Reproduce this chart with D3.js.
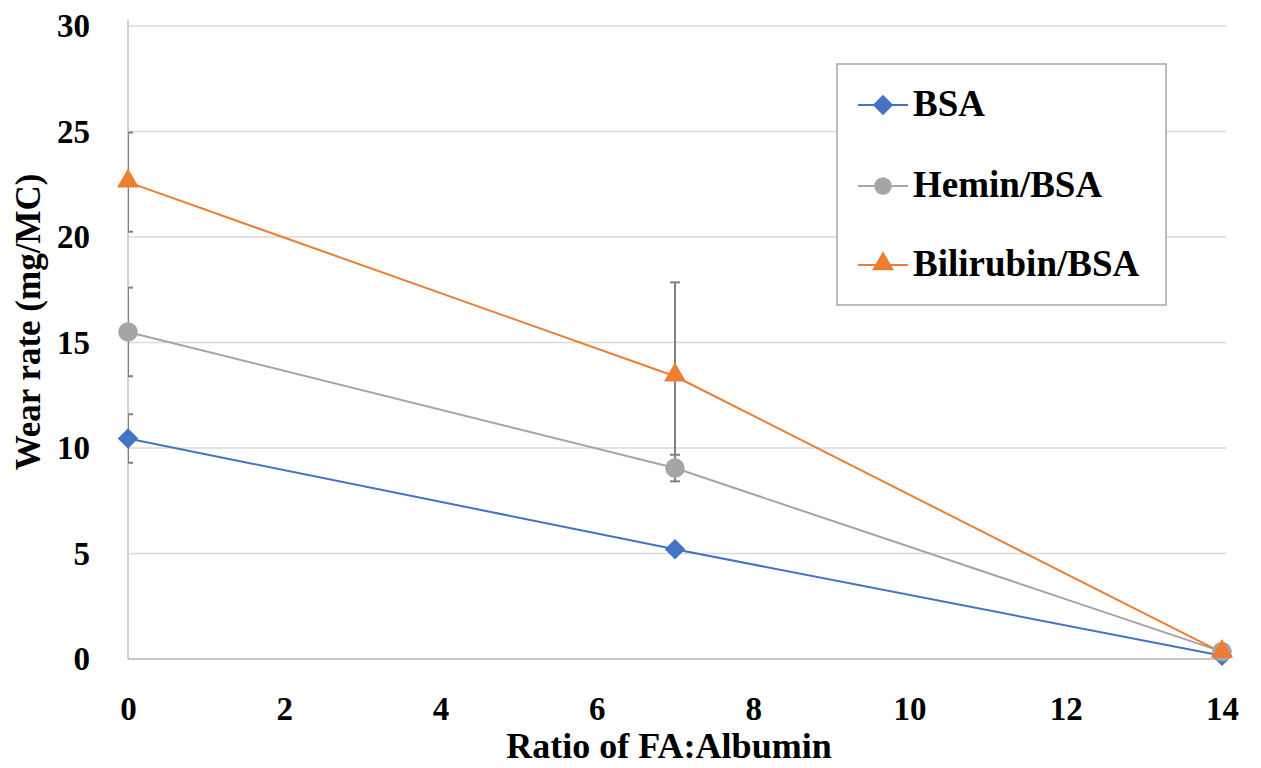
<!DOCTYPE html>
<html><head><meta charset="utf-8">
<script src="https://cdn.jsdelivr.net/npm/d3@7"></script>
<style>body{margin:0;background:#fff}svg{display:block}</style>
</head><body><svg id="c" width="1261" height="768"></svg>
<script>
const xValues = [0, 7, 14];
const seriesNames = ["BSA", "Hemin/BSA", "Bilirubin/BSA"];
const bsa = [10.45, 5.2, 0.15];
const hemin = [15.5, 9.05, 0.35];
const bilirubin = [22.6, 13.4, 0.3];
const bsaErr = [1.15, 0, 0];
const heminErr = [2.1, 0.63, 0];
const bilirubinErr = [2.35, 4.45, 0];
const xTicks = [0, 2, 4, 6, 8, 10, 12, 14];
const yTicks = [0, 5, 10, 15, 20, 25, 30];
const colors = ["#4472C4", "#A5A5A5", "#ED7D31"];

const svg = d3.select("#c");
const font = "'Liberation Serif','DejaVu Serif',serif";
const m = {l:128, r:1222, t:26, b:659};
const x = d3.scaleLinear().domain([0,14]).range([m.l, m.r]);
const y = d3.scaleLinear().domain([0,30]).range([m.b, m.t]);

function marker(sel, k, scale) {
  const s = scale || 1;
  if (k === 0) {
    sel.append("path").attr("d", d3.symbol().type(d3.symbolSquare).size(210*s))
      .attr("transform", "rotate(45)").attr("fill", colors[k]);
  } else if (k === 1) {
    sel.append("path").attr("d", d3.symbol().type(d3.symbolCircle).size(300*s)).attr("fill", colors[k]);
  } else {
    sel.append("path").attr("d", d3.symbol().type(d3.symbolTriangle).size(210*s))
      .attr("transform", "translate(0,-1)").attr("fill", colors[k]);
  }
}

svg.append("g").selectAll("line").data(yTicks.filter(d=>d>0)).join("line")
  .attr("x1", m.l).attr("x2", m.r+4).attr("y1", d=>y(d)).attr("y2", d=>y(d))
  .attr("stroke", "#d9d9d9").attr("stroke-width", 1.5);
svg.append("line").attr("x1", m.l).attr("x2", m.l).attr("y1", 20).attr("y2", m.b)
  .attr("stroke", "#d0d0d0").attr("stroke-width", 2);
svg.append("line").attr("x1", m.l).attr("x2", m.r+4).attr("y1", m.b).attr("y2", m.b)
  .attr("stroke", "#c8c8c8").attr("stroke-width", 2);

const yAxis = svg.append("g").attr("transform", `translate(${m.l},0)`)
  .call(d3.axisLeft(y).tickValues(yTicks).tickSize(0).tickPadding(38));
yAxis.select(".domain").remove();
yAxis.selectAll("text").attr("font-family", font).attr("font-weight", "bold")
  .attr("font-size", 33).attr("fill", "#000");
const xAxis = svg.append("g").attr("transform", `translate(0,${m.b})`)
  .call(d3.axisBottom(x).tickValues(xTicks).tickSize(0).tickPadding(38));
xAxis.select(".domain").remove();
xAxis.selectAll("text").attr("font-family", font).attr("font-weight", "bold")
  .attr("font-size", 33).attr("fill", "#000");

svg.append("text").attr("transform", `translate(40,322) rotate(-90)`)
  .attr("text-anchor", "middle").attr("font-family", font).attr("font-weight", "bold")
  .attr("font-size", 35).text("Wear rate (mg/MC)");
svg.append("text").attr("x", 669).attr("y", 758)
  .attr("text-anchor", "middle").attr("font-family", font).attr("font-weight", "bold")
  .attr("font-size", 36).text("Ratio of FA:Albumin");

const series = [bsa, hemin, bilirubin];
const errs = [bsaErr, heminErr, bilirubinErr];

svg.append("clipPath").attr("id", "pc").append("rect")
  .attr("x", m.l).attr("y", 0).attr("width", m.r - m.l + 30).attr("height", m.b);

const line = d3.line().x((d,i)=>x(xValues[i])).y(d=>y(d));
series.forEach((s, k) => {
  svg.append("path").datum(s).attr("d", line).attr("fill", "none")
    .attr("stroke", colors[k]).attr("stroke-width", 2);
});
series.forEach((s, k) => {
  const g = svg.append("g").attr("clip-path", "url(#pc)");
  s.forEach((v, i) => {
    const e = errs[k][i];
    if (!e) return;
    const cx = x(xValues[i]);
    g.append("line").attr("x1", cx).attr("x2", cx).attr("y1", y(v+e)).attr("y2", y(v-e))
      .attr("stroke", "#808080").attr("stroke-width", 2);
    [v+e, v-e].forEach(t => g.append("line").attr("x1", cx-5).attr("x2", cx+5)
      .attr("y1", y(t)).attr("y2", y(t)).attr("stroke", "#808080").attr("stroke-width", 2));
  });
});
series.forEach((s, k) => {
  s.forEach((d, i) => {
    const g = svg.append("g").attr("transform", `translate(${x(xValues[i])},${y(d)})`);
    marker(g, k, 1);
  });
});

svg.append("rect").attr("x", 837).attr("y", 64).attr("width", 329).attr("height", 241)
  .attr("fill", "#fff").attr("stroke", "#a6a6a6").attr("stroke-width", 1.5);
const ly = [105, 186, 265];
seriesNames.forEach((n, k) => {
  svg.append("line").attr("x1", 858).attr("x2", 908).attr("y1", ly[k]).attr("y2", ly[k])
    .attr("stroke", colors[k]).attr("stroke-width", 2);
  const g = svg.append("g").attr("transform", `translate(883,${ly[k]})`);
  marker(g, k, k === 1 ? 0.8 : 1);
  svg.append("text").attr("x", 913).attr("y", ly[k]+11).attr("font-family", font)
    .attr("font-weight", "bold").attr("font-size", 37).text(n);
});
</script></body></html>
